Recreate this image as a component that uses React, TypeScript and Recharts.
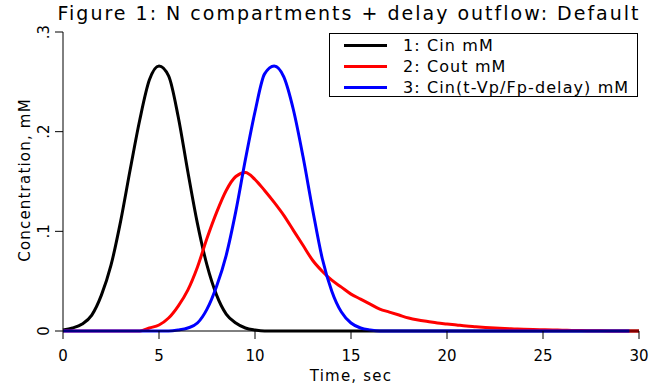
import React from "react";
import { LineChart, Line, XAxis, YAxis, Legend } from "recharts";

// time grid, seconds
const times = [
  0, 0.5, 1, 1.5, 2, 2.5, 3, 3.5, 4, 4.5, 5, 5.5, 6, 6.5, 7, 7.5, 8, 8.5, 9, 9.5,
  10, 10.5, 11, 11.5, 12, 12.5, 13, 13.5, 14, 14.5, 15, 15.5, 16, 16.5, 17, 17.5,
  18, 18.5, 19, 19.5, 20, 20.5, 21, 21.5, 22, 22.5, 23, 23.5, 24, 24.5, 25, 25.5,
  26, 26.5, 27, 27.5, 28, 28.5, 29, 29.5, 30,
];

// 1: Cin mM
const cin = [
  0.001, 0.003, 0.007, 0.016, 0.036, 0.066, 0.11, 0.162, 0.212, 0.252, 0.266,
  0.256, 0.215, 0.16, 0.108, 0.066, 0.036, 0.017, 0.008, 0.003, 0.001,
  0, 0, 0, 0, 0, 0, 0, 0, 0, 0, 0, 0, 0, 0, 0, 0, 0, 0, 0, 0,
  0, 0, 0, 0, 0, 0, 0, 0, 0, 0, 0, 0, 0, 0, 0, 0, 0, 0, 0, 0,
];

// 2: Cout mM
const cout = [
  0, 0, 0, 0, 0, 0, 0, 0, 0,
  0.003, 0.006, 0.013, 0.025, 0.041, 0.064, 0.093, 0.119, 0.141, 0.155,
  0.159, 0.152, 0.141, 0.129, 0.116, 0.101, 0.086, 0.071, 0.06, 0.051,
  0.044, 0.037, 0.032, 0.027, 0.022, 0.019, 0.016, 0.013, 0.011, 0.0095,
  0.008, 0.007, 0.006, 0.005, 0.0043, 0.0036, 0.003, 0.0025, 0.0021, 0.0017,
  0.0014, 0.0012, 0.001, 0.0008, 0.0006, 0.0004,
  0.0003, 0.0002, 0.0001, 0, 0, 0,
];

// 3: Cin(t-Vp/Fp-delay) mM
const cdelay = [
  0, 0, 0, 0, 0, 0, 0, 0, 0, 0, 0, 0,
  0.001, 0.003, 0.008, 0.022, 0.045, 0.076, 0.12, 0.172, 0.22, 0.258, 0.266,
  0.255, 0.222, 0.175, 0.122, 0.073, 0.04, 0.019, 0.008, 0.003, 0.001,
  0, 0, 0, 0, 0, 0, 0, 0, 0, 0, 0, 0, 0, 0, 0, 0, 0, 0, 0, 0, 0, 0, 0, 0, 0, 0, 0,
];

const xTicks = [0, 5, 10, 15, 20, 25, 30];
const yTicks = [0, 0.1, 0.2, 0.3];
const yTickLabels = ["0", ".1", ".2", ".3"];

const data = times.map((t, i) => ({ t, cin: cin[i], cout: cout[i], cdelay: cdelay[i] }));

const FONT = "DejaVu Sans";

const XTick = (props: any) => {
  const { x, y, payload } = props;
  return (
    <text x={x} y={y + 20} textAnchor="middle" fontFamily={FONT} fontSize={15} fill="#000">
      {payload.value}
    </text>
  );
};

const YTick = (props: any) => {
  const { x, y, payload } = props;
  const lx = x - 4;
  return (
    <text
      x={lx}
      y={y}
      transform={`rotate(-90, ${lx}, ${y})`}
      textAnchor="middle"
      fontFamily={FONT}
      fontSize={15}
      fill="#000"
    >
      {yTickLabels[yTicks.indexOf(payload.value)]}
    </text>
  );
};

const LegendBox = (props: any) => {
  const items = props.payload || [];
  return (
    <div
      style={{
        width: 309,
        height: 64,
        boxSizing: "border-box",
        border: "1px solid #000",
        background: "#fff",
        position: "relative",
        fontFamily: FONT,
        fontSize: 16,
        letterSpacing: 1.1,
      }}
    >
      {items.map((it: any, i: number) => (
        <div key={i} style={{ position: "absolute", left: 0, top: 1 + i * 21, height: 21, width: "100%" }}>
          <div
            style={{
              position: "absolute",
              left: 14,
              top: 9,
              width: 43,
              height: 3,
              background: it.color,
            }}
          />
          <span style={{ position: "absolute", left: 73, top: 0, lineHeight: "21px", whiteSpace: "nowrap" }}>
            {it.value}
          </span>
        </div>
      ))}
    </div>
  );
};

export default function App() {
  return (
    <div style={{ position: "absolute", left: 0, top: 0, width: 669, height: 389, background: "#fff" }}>
      <LineChart width={669} height={389} data={data} margin={{ top: 32, right: 30, bottom: 28, left: 23 }}>
        <text x={349} y={20} textAnchor="middle" fontFamily={FONT} fontSize={19} letterSpacing={2} fill="#000">
          Figure 1: N compartments + delay outflow: Default
        </text>
        <text x={351} y={381} textAnchor="middle" fontFamily={FONT} fontSize={15} letterSpacing={1.2} fill="#000">
          Time, sec
        </text>
        <text
          x={30}
          y={180}
          transform="rotate(-90, 30, 180)"
          textAnchor="middle"
          fontFamily={FONT}
          fontSize={15}
          letterSpacing={1.2}
          fill="#000"
        >
          Concentration, mM
        </text>
        <XAxis
          dataKey="t"
          type="number"
          domain={[0, 30]}
          ticks={xTicks}
          height={30}
          tickSize={8}
          stroke="#000"
          tick={<XTick />}
        />
        <YAxis
          type="number"
          domain={[0, 0.3]}
          ticks={yTicks}
          width={40}
          tickSize={8}
          stroke="#000"
          tick={<YTick />}
        />
        <Legend
          layout="horizontal"
          verticalAlign="middle"
          align="center"
          wrapperStyle={{ position: "absolute", left: 329, top: 33, width: 309 }}
          content={<LegendBox />}
        />
        <Line type="monotone" dataKey="cin" name="1: Cin mM" stroke="#000" strokeWidth={3} dot={false} isAnimationActive={false} />
        <Line type="monotone" dataKey="cout" name="2: Cout mM" stroke="#ff0000" strokeWidth={3} dot={false} isAnimationActive={false} />
        <Line type="monotone" dataKey="cdelay" name="3: Cin(t-Vp/Fp-delay) mM" stroke="#0000ff" strokeWidth={3} dot={false} isAnimationActive={false} />
      </LineChart>
    </div>
  );
}
